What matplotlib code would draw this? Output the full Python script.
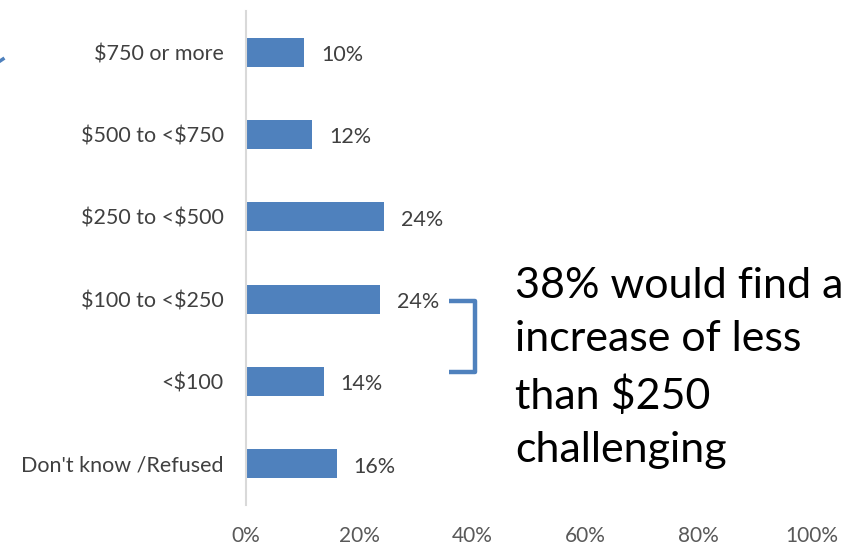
import matplotlib
matplotlib.use("Agg")
import matplotlib.pyplot as plt
from matplotlib.ticker import FuncFormatter

plt.rcParams['font.family'] = ['Lato', 'DejaVu Sans']
plt.rcParams['text.parse_math'] = False

# amount ranges, top to bottom
categories = ["$750 or more", "$500 to <$750", "$250 to <$500",
              "$100 to <$250", "<$100", "Don't know /Refused"]
shares = [10.3, 11.7, 24.4, 23.7, 13.8, 16.1]
x_ticks = [0, 20, 40, 60, 80, 100]
note_lines = ["38% would find a", "increase of less", "than $250", "challenging"]

bar_color = "#4f81bd"
text_color = "#404040"

fig = plt.figure(figsize=(8.52, 5.46), dpi=100)
ax = fig.add_axes([246 / 852, 41 / 546, (812 - 246) / 852, (535 - 41) / 546])

ypos = list(range(len(categories)))
ax.barh(ypos, shares, height=0.35, color=bar_color)
ax.set_ylim(len(categories) - 0.5, -0.5)
ax.set_xlim(0, 100)

for y, v in zip(ypos, shares):
    ax.annotate(f"{v:.0f}%", xy=(v, y), xytext=(12, -2), textcoords="offset points",
                va="center", ha="left", fontsize=15.5, color=text_color)

ax.set_yticks(ypos)
ax.set_yticklabels(categories, fontsize=15.5, color=text_color)
ax.set_xticks(x_ticks)
ax.xaxis.set_major_formatter(FuncFormatter(lambda v, _: f"{v:.0f}%"))
ax.tick_params(axis="x", length=0, pad=15, labelsize=15, labelcolor="#595959")
ax.tick_params(axis="y", length=0, pad=16)

for side in ["top", "right", "bottom"]:
    ax.spines[side].set_visible(False)
ax.spines["left"].set_color("#d9d9d9")
ax.spines["left"].set_linewidth(1.5)

# bracket grouping the two lowest amount ranges
bx0, bx1 = 35.9, 40.5
by0, by1 = 3.02, 3.89
ax.plot([bx0, bx1, bx1, bx0], [by0, by0, by1, by1], color=bar_color, lw=3.2,
        solid_joinstyle="round", solid_capstyle="butt", clip_on=False)

fig.text(515 / 852, 1 - 368 / 546, "\n".join(note_lines), fontsize=31,
         color="black", ha="left", va="center", linespacing=1.5)

# small stroke at the left edge
fig.add_artist(plt.Line2D([0, 3 / 852], [1 - 61 / 546, 1 - 59 / 546],
                          color=bar_color, lw=2.5))

fig.savefig("out.png", dpi=100)
